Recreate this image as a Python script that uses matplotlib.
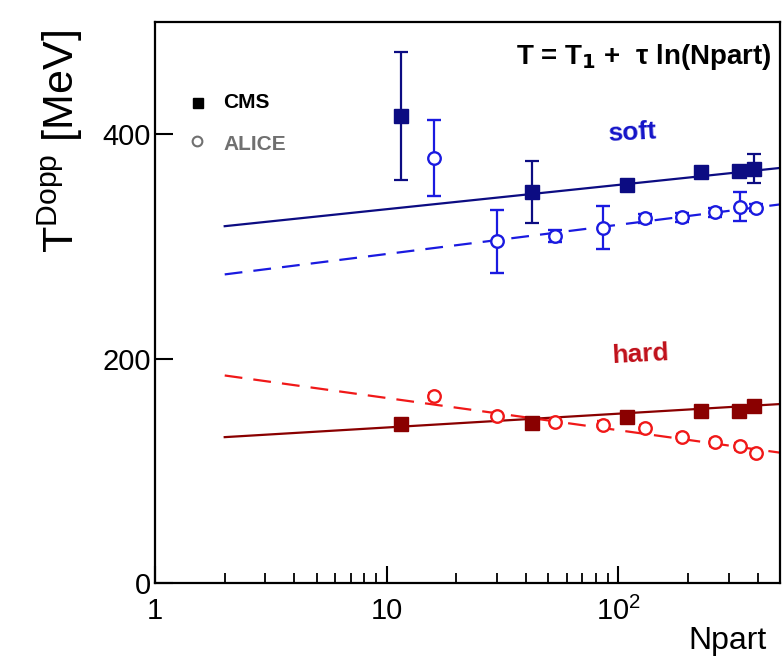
import matplotlib
matplotlib.use("Agg")
import matplotlib.pyplot as plt
import numpy as np
from matplotlib.ticker import FixedLocator, FixedFormatter, LogLocator, NullLocator, NullFormatter

plt.rcParams['font.family'] = ['Liberation Sans', 'DejaVu Sans']
plt.rcParams['mathtext.fontset'] = 'custom'
plt.rcParams['mathtext.rm'] = 'Liberation Sans'

# ---------------- data ----------------
cms_N = [11.5, 42.6, 109, 228, 334, 385]
cms_soft_T = [416, 348.5, 354.7, 366.7, 367.2, 369.4]
cms_soft_err = [57, 28, 3, 3, 3, 13]
cms_hard_T = [141.7, 142.6, 147.6, 152.9, 152.9, 158.0]
cms_hard_err = [2, 2, 2, 2, 2, 2]

alice_N = [16.0, 30.0, 53.3, 85.9, 131, 189, 263, 335, 392]
alice_soft_T = [378.6, 304.7, 309.2, 316.7, 325.0, 326.0, 330.6, 335.4, 334.6]
alice_soft_err = [34, 28, 5, 19, 4, 4, 4, 13, 3]
alice_hard_T = [166.3, 148.5, 143.5, 141.1, 138.1, 130.1, 125.3, 121.7, 115.8]
alice_hard_err = [3, 3, 3, 3, 3, 3, 3, 3, 3]

# fit T = T1 + tau*ln(Npart)
fit_T1 = {'cms_soft': 311.5, 'alice_soft': 267.2, 'cms_hard': 126.3, 'alice_hard': 193.6}
fit_tau = {'cms_soft': 9.4, 'alice_soft': 11.3, 'cms_hard': 5.34, 'alice_hard': -12.46}
fit_range = [2, 500]

x_ticks = [1, 10, 100]
x_ticklabels = ['1', '10', r'$\mathregular{10^2}$']
y_ticks = [0, 200, 400]
y_ticklabels = ['0', '200', '400']

# ---------------- colors ----------------
c_cms_soft = '#0c0c82'
c_alice_soft = '#1a1ae0'
c_cms_hard = '#8a0000'
c_alice_hard = '#f01818'

W, H = 783, 657
fig = plt.figure(figsize=(W / 100, H / 100), dpi=100)
ax = fig.add_axes([155 / W, 1 - 583 / H, (780 - 155) / W, (583 - 22) / H])
ax.set_xscale('log')
ax.set_xlim(1, 500)
ax.set_ylim(0, 500)

Nfit = np.geomspace(fit_range[0], fit_range[1], 200)
def fitline(key):
    return fit_T1[key] + fit_tau[key] * np.log(Nfit)

dash = (0, (8, 5))
ax.plot(Nfit, fitline('cms_soft'), color=c_cms_soft, lw=1.6, zorder=2)
ax.plot(Nfit, fitline('alice_soft'), color=c_alice_soft, lw=1.6, ls=dash, zorder=2)
ax.plot(Nfit, fitline('cms_hard'), color=c_cms_hard, lw=1.6, zorder=2)
ax.plot(Nfit, fitline('alice_hard'), color=c_alice_hard, lw=1.6, ls=dash, zorder=2)

ax.errorbar(cms_N, cms_soft_T, yerr=cms_soft_err, fmt='s', color=c_cms_soft, ms=10,
            capsize=5, elinewidth=1.6, capthick=1.6, zorder=4)
ax.errorbar(cms_N, cms_hard_T, yerr=cms_hard_err, fmt='s', color=c_cms_hard, ms=10,
            capsize=0, elinewidth=1.6, zorder=4)
ax.errorbar(alice_N, alice_soft_T, yerr=alice_soft_err, fmt='o', color=c_alice_soft, ms=9,
            mfc='white', mew=1.7, capsize=5, elinewidth=1.6, capthick=1.6, zorder=3)
ax.errorbar(alice_N, alice_hard_T, yerr=alice_hard_err, fmt='o', color=c_alice_hard, ms=9,
            mfc='white', mew=1.7, capsize=4, elinewidth=1.4, capthick=1.4, zorder=3)

# ticks
ax.xaxis.set_major_locator(FixedLocator(x_ticks))
ax.xaxis.set_major_formatter(FixedFormatter(x_ticklabels))
ax.xaxis.set_minor_locator(LogLocator(base=10, subs=np.arange(2, 10), numticks=20))
ax.xaxis.set_minor_formatter(NullFormatter())
ax.yaxis.set_major_locator(FixedLocator(y_ticks))
ax.yaxis.set_major_formatter(FixedFormatter(y_ticklabels))
ax.yaxis.set_minor_locator(NullLocator())
ax.tick_params(axis='x', which='major', direction='in', length=12, width=1.5, pad=10, labelsize=21)
ax.tick_params(axis='x', which='minor', direction='in', length=7, width=1.3)
ax.tick_params(axis='y', which='major', direction='in', length=13, width=1.5, pad=3, labelsize=21)
for s in ax.spines.values():
    s.set_linewidth(1.6)

# legend (manual)
ax.plot([0.069], [0.856], 's', color='black', ms=7, transform=ax.transAxes, clip_on=False)
ax.text(0.109, 0.856, 'CMS', transform=ax.transAxes, fontsize=15, fontweight='bold',
        color='black', va='center', ha='left')
ax.plot([0.067], [0.787], 'o', color='#707070', mfc='white', mew=1.5, ms=7,
        transform=ax.transAxes, clip_on=False)
ax.text(0.109, 0.781, 'ALICE', transform=ax.transAxes, fontsize=15, fontweight='bold',
        color='#707070', va='center', ha='left')

ax.text(0.987, 0.937, r'T = T$_\mathbf{1}$ +  τ ln(Npart)', transform=ax.transAxes,
        fontsize=20, fontweight='bold', ha='right', va='center')
ax.text(0.763, 0.802, 'soft', transform=ax.transAxes, fontsize=19, fontweight='bold',
        color='#1414c8', ha='center', va='center', rotation=3)
ax.text(0.776, 0.408, 'hard', transform=ax.transAxes, fontsize=19, fontweight='bold',
        color='#c0101a', ha='center', va='center', rotation=3)

fig.text(60 / W, 1 - 30 / H, r'T$^{\mathregular{Dopp}}$ [MeV]', rotation=90,
         ha='center', va='top', fontsize=31)
fig.text(767 / W, 1 - 641 / H, 'Npart', ha='right', va='center', fontsize=23)

fig.savefig('out.png', dpi=100)
